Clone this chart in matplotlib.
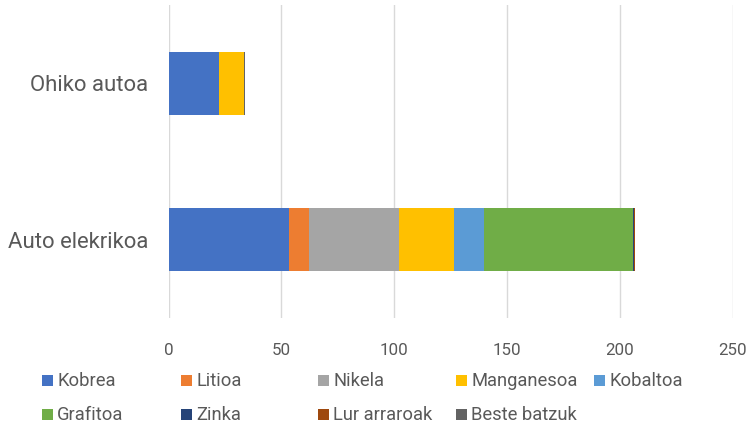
import matplotlib.pyplot as plt
from matplotlib.patches import Rectangle

# data
categories = ["Auto elekrikoa", "Ohiko autoa"]
minerals = ["Kobrea", "Litioa", "Nikela", "Manganesoa", "Kobaltoa",
            "Grafitoa", "Zinka", "Lur arraroak", "Beste batzuk"]
auto_elekrikoa = [53.2, 8.9, 39.9, 24.5, 13.3, 66.3, 0.1, 0.5, 0.3]
ohiko_autoa = [22.3, 0, 0, 11.2, 0, 0, 0.1, 0, 0.3]
colors = ["#4472C4", "#ED7D31", "#A5A5A5", "#FFC000", "#5B9BD5",
          "#70AD47", "#264478", "#9E480E", "#636363"]
xticks = [0, 50, 100, 150, 200, 250]

plt.rcParams['font.family'] = ['Roboto', 'DejaVu Sans']
txt = "#595959"
W, H = 748, 425

fig = plt.figure(figsize=(W / 100, H / 100), dpi=100)
ax = fig.add_axes([168.5 / W, 1 - 318 / H, (732.5 - 168.5) / W, (318 - 5) / H])

left = [0.0, 0.0]
for i, m in enumerate(minerals):
    vals = [auto_elekrikoa[i], ohiko_autoa[i]]
    ax.barh(range(len(categories)), vals, left=left, height=0.4,
            color=colors[i], linewidth=0, zorder=3)
    left = [l + v for l, v in zip(left, vals)]

ax.set_xlim(0, 250)
ax.set_ylim(-0.5, 1.5)
ax.set_xticks(xticks)
ax.set_xticklabels([str(t) for t in xticks])
ax.set_yticks(range(len(categories)))
ax.set_yticklabels(categories)
ax.tick_params(axis='x', length=0, pad=18, labelsize=12.2, labelcolor=txt)
ax.tick_params(axis='y', length=0, pad=14.5, labelsize=15.9, labelcolor=txt)
ax.grid(axis='x', color="#D9D9D9", linewidth=1, zorder=0)
for s in ax.spines.values():
    s.set_visible(False)

# legend, laid out like the original (row by row)
col_x = [42, 181, 318, 456, 594]
row_y = [380.5, 414.5]
sq = 10.7
for i, m in enumerate(minerals):
    r, c = divmod(i, 5)
    x0, yc = col_x[c], row_y[r]
    fig.patches.append(Rectangle((x0 / W, 1 - (yc + sq / 2) / H), sq / W, sq / H,
                                 transform=fig.transFigure, color=colors[i],
                                 linewidth=0))
    fig.text((x0 + sq + 4.5) / W, 1 - yc / H, m, ha='left', va='center',
             fontsize=13.2, color=txt)

fig.savefig("out.png", dpi=100)
